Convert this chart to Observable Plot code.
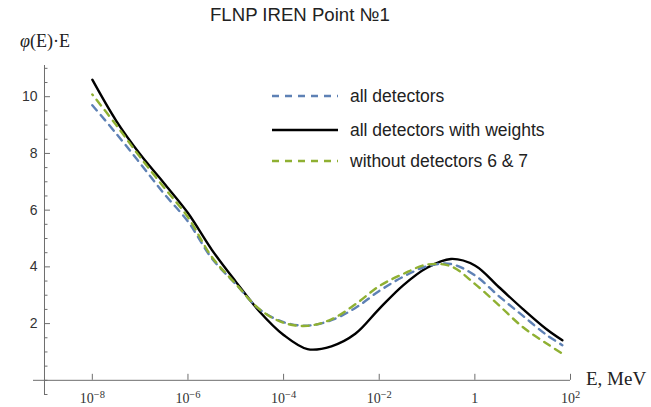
<!DOCTYPE html>
<html><head><meta charset="utf-8">
<script src="https://cdn.jsdelivr.net/npm/d3@7"></script>
<script src="https://cdn.jsdelivr.net/npm/@observablehq/plot@0.6"></script>
<style>
body{margin:0;background:#fff;}
#wrap{position:relative;width:651px;height:407px;overflow:hidden;background:#fff;}
#wrap svg.chart{position:absolute;left:0;top:0;}
.t{position:absolute;white-space:nowrap;color:#222;}
.sans{font-family:"Liberation Sans",Arial,sans-serif;}
.serif{font-family:"Liberation Serif","Times New Roman",serif;}
.leg{position:absolute;display:flex;align-items:center;}
</style></head><body><div id="wrap"></div>
<script>
// ---- data ----
const logE = [-8, -7.5, -7, -6.5, -6, -5.5, -5, -4.5, -4, -3.5, -3, -2.5, -2, -1.5, -1, -0.5, 0, 0.5, 1, 1.5, 1.83];
const allDetectors = [9.7, 8.7, 7.65, 6.58, 5.6, 4.3, 3.39, 2.5, 2.05, 1.93, 2.12, 2.55, 3.15, 3.65, 4.02, 4.1, 3.7, 2.97, 2.28, 1.6, 1.24];
const withWeights = [10.6, 9.15, 7.97, 6.95, 5.9, 4.6, 3.48, 2.42, 1.6, 1.1, 1.2, 1.64, 2.52, 3.35, 3.97, 4.28, 4.05, 3.29, 2.52, 1.8, 1.41];
const without67 = [10.08, 9.0, 7.87, 6.8, 5.75, 4.35, 3.4, 2.5, 2.03, 1.92, 2.15, 2.68, 3.32, 3.75, 4.08, 4.02, 3.4, 2.65, 1.88, 1.3, 0.94];
const seriesNames = ["all detectors", "all detectors with weights", "without detectors 6 & 7"];
const seriesColors = ["#5e81b5", "#000000", "#8fb032"];
const xTickPowers = [-8, -6, -4, -2, 0, 2];
const yTickValues = [2, 4, 6, 8, 10];
const titleText = "FLNP IREN Point №1";
const xLabelText = "E, MeV";

// ---- layout ----
const W = 651, H = 407, mL = 33, mR = 81, mT = 65, mB = 13;
const xDom = [10 ** -9.23, 100], yDom = [-0.5, 11.1];
const pxPerY = (H - mT - mB) / (yDom[1] - yDom[0]);
const pxPerDec = (W - mL - mR) / (Math.log10(xDom[1]) - Math.log10(xDom[0]));
const yAxisAt = 1e-9;
const axisColor = "#6e6e6e";
const labelColor = "#333";

const rows = (vals, s) => logE.map((l, i) => ({E: 10 ** l, v: vals[i], s}));
const xTicks = xTickPowers.map(p => 10 ** p);
const minorY = d3.range(-0.5, 11.01, 0.5).filter(v => !yTickValues.includes(v));
const sup = p => p === 0 ? "1" : "10^" + p;

const lineOpts = {x: "E", y: "v", curve: "catmull-rom", strokeWidth: 2.4};
const chart = Plot.plot({
  width: W, height: H,
  marginLeft: mL, marginRight: mR, marginTop: mT, marginBottom: mB,
  x: {type: "log", domain: xDom, axis: null},
  y: {domain: yDom, axis: null},
  className: "chart",
  marks: [
    Plot.ruleY([0], {x1: xDom[0], x2: xDom[1], stroke: axisColor, strokeWidth: 1}),
    Plot.ruleX([yAxisAt], {y1: yDom[0], y2: yDom[1], stroke: axisColor, strokeWidth: 1}),
    Plot.ruleX(xTicks, {x: d => d, y1: 0, y2: 6 / pxPerY, stroke: axisColor}),
    Plot.ruleY(yTickValues, {y: d => d, x1: yAxisAt, x2: yAxisAt * 10 ** (6 / pxPerDec), stroke: axisColor}),
    Plot.ruleY(minorY, {y: d => d, x1: yAxisAt, x2: yAxisAt * 10 ** (3.5 / pxPerDec), stroke: axisColor}),
    Plot.text(xTicks, {x: d => d, y: 0, dy: 18, text: (d, i) => sup(xTickPowers[i]), fontFamily: "Liberation Serif, serif", fontSize: 14, fill: labelColor, className: "xlab"}),
    Plot.text(yTickValues, {x: yAxisAt, y: d => d, dx: -7, textAnchor: "end", text: d => String(d), fontFamily: "Liberation Sans, Arial, sans-serif", fontSize: 14, fill: labelColor}),
    Plot.line(rows(withWeights, seriesNames[1]), {...lineOpts, stroke: seriesColors[1]}),
    Plot.line(rows(allDetectors, seriesNames[0]), {...lineOpts, stroke: seriesColors[0], strokeDasharray: "7,6"}),
    Plot.line(rows(without67, seriesNames[2]), {...lineOpts, stroke: seriesColors[2], strokeDasharray: "7,6", strokeDashoffset: 6})
  ]
});
const wrap = document.getElementById("wrap");
wrap.appendChild(chart);

// superscript tick labels
d3.select(chart).selectAll("g.xlab text").each(function () {
  const s = this.textContent;
  if (!s.startsWith("10^")) return;
  const p = s.slice(3).replace("-", "\u2212");
  const el = d3.select(this);
  el.text(null);
  el.append("tspan").text("10");
  el.append("tspan").attr("dy", "-0.45em").attr("font-size", "10.5").text(p);
});

// title / axis labels
const add = (cls, html, css) => {
  const d = document.createElement("div");
  d.className = "t " + cls; d.innerHTML = html; Object.assign(d.style, css);
  wrap.appendChild(d); return d;
};
add("sans", titleText, {left: "210px", top: "4px", fontSize: "18.6px"});
add("serif", "<i>φ</i>(E)·E", {left: "20px", top: "31px", fontSize: "18px"});
add("serif", xLabelText, {left: "586px", top: "368px", fontSize: "19px"});

// legend
const legY = [96, 130, 161];
const legOrder = [0, 1, 2];
legOrder.forEach((k, i) => {
  const d = document.createElement("div");
  d.className = "leg";
  Object.assign(d.style, {left: "272px", top: (legY[i] - 11) + "px", height: "22px"});
  const dash = k === 1 ? "" : 'stroke-dasharray="7,6"';
  d.innerHTML = `<svg width="66" height="22" style="display:block"><line x1="0" x2="66" y1="11" y2="11" stroke="${seriesColors[k]}" stroke-width="2.4" ${dash}/></svg>` +
    `<span class="sans" style="margin-left:12px;font-size:17.5px;color:#222">${seriesNames[k]}</span>`;
  wrap.appendChild(d);
});
</script>
</body></html>
